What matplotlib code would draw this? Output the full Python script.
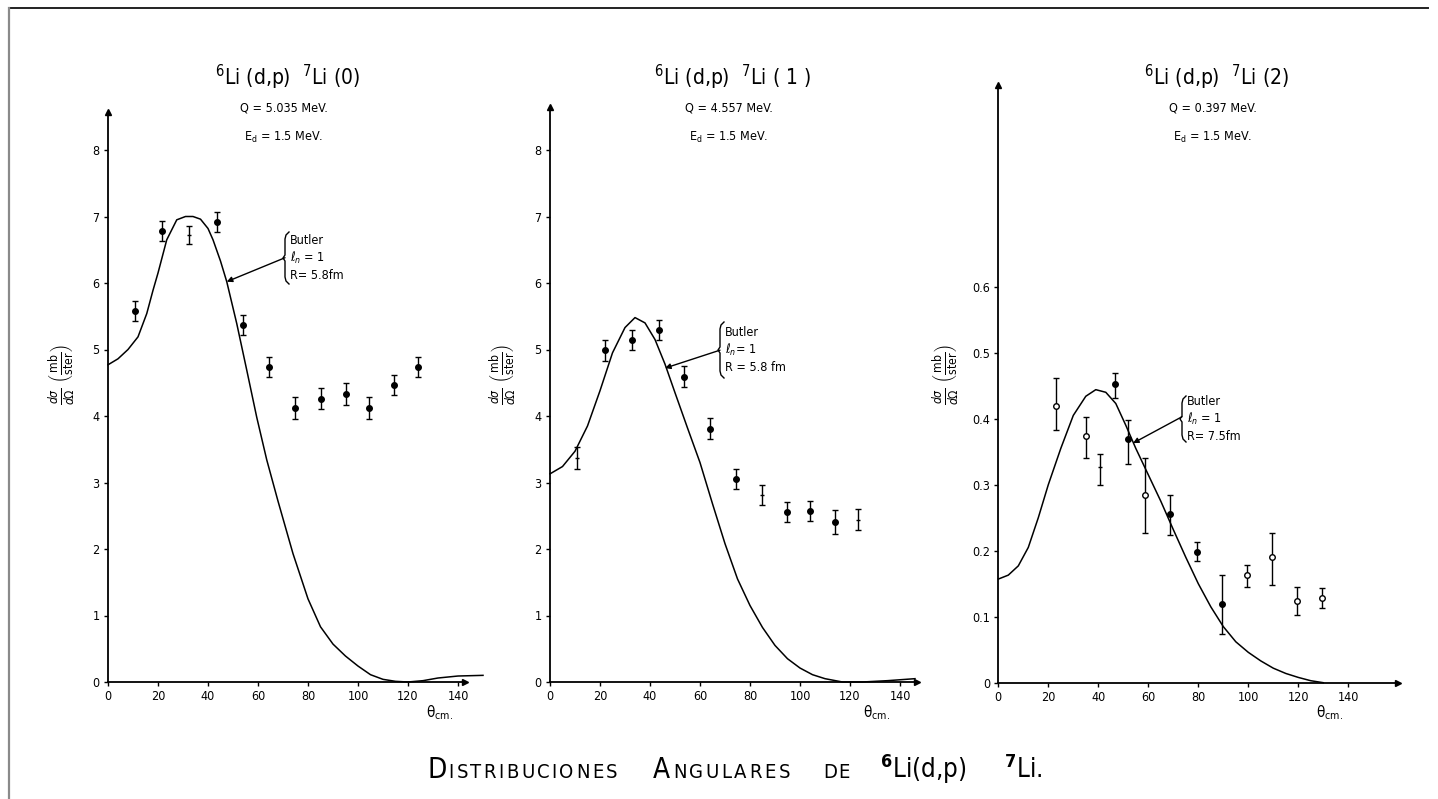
import matplotlib
matplotlib.use('Agg')
import matplotlib.pyplot as plt
from matplotlib import font_manager
from matplotlib.transforms import IdentityTransform
from matplotlib.lines import Line2D

W, H = 1438, 799
names = {f.name for f in font_manager.fontManager.ttflist}
FONT = 'Liberation Sans Narrow' if 'Liberation Sans Narrow' in names else 'DejaVu Sans'
plt.rcParams['font.family'] = [FONT, 'DejaVu Sans']
plt.rcParams['font.stretch'] = 'condensed'
plt.rcParams['mathtext.fontset'] = 'custom'
plt.rcParams['mathtext.rm'] = FONT
plt.rcParams['mathtext.it'] = FONT + ':italic'
plt.rcParams['mathtext.bf'] = FONT + ':bold'

# ---------------- data ----------------
x_ticks = [0, 20, 40, 60, 80, 100, 120, 140]
y_ticks_01 = [0, 1, 2, 3, 4, 5, 6, 7, 8]
y_ticks_2 = [0, 0.1, 0.2, 0.3, 0.4, 0.5, 0.6]
y_ticklabels_2 = ['0', '0.1', '0.2', '0.3', '0.4', '0.5', '0.6']

titles = [r'$^{6}$Li (d,p)  $^{7}$Li (0)', r'$^{6}$Li (d,p)  $^{7}$Li ( 1 )', r'$^{6}$Li (d,p)  $^{7}$Li (2)']
q_labels = ['Q = 5.035 MeV.', 'Q = 4.557 MeV.', 'Q = 0.397 MeV.']
ed_labels = [r'E$_{\rm d}$ = 1.5 MeV.'] * 3
butler_labels = ['Butler\n$\\ell_n$ = 1\nR= 5.8fm', 'Butler\n$\\ell_n$= 1\nR = 5.8 fm', 'Butler\n$\\ell_n$ = 1\nR= 7.5fm']

# panel 0: 7Li(0)
theta_0 = [10.8, 21.5, 32.4, 43.5, 53.9, 64.5, 74.8, 85.2, 95.1, 104.5, 114.4, 124.0]
sig_0 = [5.58, 6.78, 6.72, 6.92, 5.37, 4.74, 4.12, 4.26, 4.33, 4.12, 4.47, 4.73]
err_lo_0 = [0.15, 0.15, 0.14, 0.15, 0.15, 0.15, 0.16, 0.16, 0.16, 0.16, 0.15, 0.15]
err_hi_0 = [0.15, 0.15, 0.14, 0.15, 0.15, 0.15, 0.16, 0.16, 0.16, 0.16, 0.15, 0.15]
mark_0 = ['f', 'f', 'n', 'f', 'f', 'f', 'f', 'f', 'f', 'f', 'f', 'f']
curve_theta_0 = [0, 4, 8, 12, 15.5, 18, 20, 23.5, 27.5, 31, 34, 37, 40, 42, 45, 47.5, 51.5, 55.5,
                 59.5, 63.5, 68, 74, 80, 85, 90, 95, 100, 105, 110, 115, 120, 126, 132, 140, 150]
curve_sig_0 = [4.77, 4.86, 5.0, 5.19, 5.54, 5.89, 6.15, 6.65, 6.95, 7.0, 7.0, 6.96, 6.82, 6.65,
               6.33, 6.02, 5.39, 4.69, 3.98, 3.34, 2.72, 1.93, 1.25, 0.83, 0.57, 0.39, 0.24, 0.11,
               0.04, 0.01, 0.0, 0.02, 0.06, 0.09, 0.1]

# panel 1: 7Li(1)
theta_1 = [10.9, 22.0, 32.9, 43.6, 53.5, 64.0, 74.5, 84.8, 94.8, 104.1, 114.1, 123.3]
sig_1 = [3.37, 4.99, 5.14, 5.30, 4.59, 3.81, 3.05, 2.81, 2.55, 2.57, 2.40, 2.44]
err_lo_1 = [0.16, 0.16, 0.15, 0.15, 0.155, 0.155, 0.155, 0.15, 0.15, 0.155, 0.18, 0.16]
err_hi_1 = [0.16, 0.16, 0.15, 0.15, 0.155, 0.155, 0.155, 0.15, 0.15, 0.155, 0.18, 0.16]
mark_1 = ['n', 'f', 'f', 'f', 'f', 'f', 'f', 'n', 'f', 'f', 'f', 'n']
curve_theta_1 = [0, 5, 10, 15, 20, 25, 30, 34, 38, 42, 46, 50, 55, 60, 65, 70, 75, 80, 85, 90,
                 95, 100, 105, 110, 117, 125, 135, 146]
curve_sig_1 = [3.13, 3.24, 3.47, 3.85, 4.38, 4.95, 5.33, 5.48, 5.4, 5.15, 4.78, 4.35, 3.82, 3.3,
               2.68, 2.08, 1.55, 1.15, 0.82, 0.55, 0.35, 0.21, 0.11, 0.05, 0.0, 0.0, 0.02, 0.05]

# panel 2: 7Li(2)
theta_2 = [23.1, 35.1, 40.8, 46.8, 51.9, 58.8, 68.7, 79.5, 89.6, 99.5, 109.5, 119.5, 129.6]
sig_2 = [0.420, 0.374, 0.327, 0.452, 0.369, 0.284, 0.256, 0.198, 0.119, 0.163, 0.191, 0.124, 0.129]
err_lo_2 = [0.037, 0.033, 0.027, 0.020, 0.037, 0.057, 0.032, 0.013, 0.045, 0.018, 0.043, 0.022, 0.016]
err_hi_2 = [0.041, 0.028, 0.019, 0.018, 0.029, 0.057, 0.029, 0.015, 0.044, 0.015, 0.036, 0.021, 0.015]
mark_2 = ['o', 'o', 'n', 'f', 'f', 'o', 'f', 'f', 'f', 'o', 'o', 'o', 'o']
curve_theta_2 = [0, 4, 8, 12, 16, 20, 25, 30, 35, 39, 43, 47, 51, 55, 60, 65, 70, 75, 80, 85,
                 90, 95, 100, 105, 110, 115, 120, 125, 130]
curve_sig_2 = [0.157, 0.163, 0.177, 0.205, 0.25, 0.3, 0.355, 0.405, 0.434, 0.444, 0.44, 0.423,
               0.39, 0.355, 0.315, 0.275, 0.232, 0.19, 0.15, 0.115, 0.085, 0.062, 0.046, 0.033,
               0.022, 0.014, 0.008, 0.003, 0.0]

# annotation targets (arrow head on curve, brace tail)
arrow_head = [(47.5, 6.02), (46.0, 4.72), (53.9, 0.363)]
arrow_tail = [(70.8, 6.38), (68.0, 4.99), (73.5, 0.403)]

# ---------------- figure ----------------
fig = plt.figure(figsize=(W / 100, H / 100), dpi=100)
ID = IdentityTransform()

# frame lines of the scanned page
fig.add_artist(Line2D([9 / W, 1428 / W], [1 - 8 / H, 1 - 8 / H], color='#222222', lw=1.4))
fig.add_artist(Line2D([9 / W, 9 / W], [1 - 8 / H, 0], color='#8a8a8a', lw=1.6))

panels = [
    dict(left=108, y0=682, xmax=150, ymax=8.7, ypx=66.5, xarrow=142.8, yarrow=8.57,
         yt=y_ticks_01, ytl=[str(v) for v in y_ticks_01],
         th=theta_0, sg=sig_0, lo=err_lo_0, hi=err_hi_0, mk=mark_0,
         ct=curve_theta_0, cs=curve_sig_0, tx=287, lx=62, thx=440, bx=285, by=258, bh=26),
    dict(left=550, y0=682, xmax=150, ymax=8.7, ypx=66.5, xarrow=146.8, yarrow=8.65,
         yt=y_ticks_01, ytl=[str(v) for v in y_ticks_01],
         th=theta_1, sg=sig_1, lo=err_lo_1, hi=err_hi_1, mk=mark_1,
         ct=curve_theta_1, cs=curve_sig_1, tx=732, lx=503, thx=877, bx=720, by=350, bh=28),
    dict(left=998.3, y0=682.7, xmax=162, ymax=0.91, ypx=660, xarrow=160, yarrow=0.905,
         yt=y_ticks_2, ytl=y_ticklabels_2,
         th=theta_2, sg=sig_2, lo=err_lo_2, hi=err_hi_2, mk=mark_2,
         ct=curve_theta_2, cs=curve_sig_2, tx=1216, lx=946, thx=1330, bx=1182, by=419, bh=23),
]

for i, p in enumerate(panels):
    w = p['xmax'] * 2.5
    h = p['ymax'] * p['ypx']
    ax = fig.add_axes([p['left'] / W, (H - p['y0']) / H, w / W, h / H])
    ax.set_xlim(0, p['xmax'])
    ax.set_ylim(0, p['ymax'])
    ax.patch.set_alpha(0)
    for s in ('top', 'right'):
        ax.spines[s].set_visible(False)
    ax.spines['left'].set_bounds(0, p['yarrow'])
    ax.spines['bottom'].set_bounds(0, p['xarrow'])
    ax.spines['left'].set_linewidth(1.3)
    ax.spines['bottom'].set_linewidth(1.3)
    ax.plot([0], [p['yarrow']], marker='^', ms=5, color='black', clip_on=False)
    ax.plot([p['xarrow']], [0], marker='>', ms=5, color='black', clip_on=False)
    ax.set_xticks(x_ticks)
    ax.set_xticklabels([str(v) for v in x_ticks])
    ax.set_yticks(p['yt'])
    ax.set_yticklabels(p['ytl'])
    ax.tick_params(direction='out', length=3, width=1, labelsize=9, pad=3, colors='black')

    # Butler curve
    ax.plot(p['ct'], p['cs'], color='black', lw=1.1, clip_on=False,
            solid_joinstyle='round')

    # data points
    for t, s, lo, hi, m in zip(p['th'], p['sg'], p['lo'], p['hi'], p['mk']):
        if m == 'f':
            mk, mfc, ms = 'o', 'black', 4
        elif m == 'o':
            mk, mfc, ms = 'o', 'white', 4
        else:
            mk, mfc, ms = '_', 'black', 3
        ax.errorbar([t], [s], yerr=[[lo], [hi]], fmt=mk, mfc=mfc, mec='black', ms=ms,
                    ecolor='black', elinewidth=1.0, capsize=2.5, capthick=1.0, mew=1.0)

    # annotation
    hx, hy = arrow_head[i]
    tx_, ty_ = arrow_tail[i]
    ax.annotate('', xy=(hx, hy), xytext=(tx_, ty_),
                arrowprops=dict(arrowstyle='-|>', color='black', lw=1.0,
                                mutation_scale=8, shrinkA=0, shrinkB=0))
    bx, by, bh = p['bx'], p['by'], p['bh']
    xs = [bx + 4, bx + 1, bx, bx, bx - 2, bx, bx, bx + 1, bx + 4]
    ys = [by - bh, by - bh + 3, by - bh + 7, by - 3, by, by + 3, by + bh - 7, by + bh - 3, by + bh]
    fig.add_artist(Line2D([x / W for x in xs], [1 - y / H for y in ys], color='black', lw=1.0))
    fig.text(bx + 5, H - by, butler_labels[i], transform=ID, ha='left', va='center',
             fontsize=9, linespacing=1.3)

    # titles
    fig.text(p['tx'], H - 77, titles[i], transform=ID, ha='center', va='center', fontsize=15)
    fig.text(p['tx'] - 3, H - 108, q_labels[i], transform=ID, ha='center', va='center', fontsize=9)
    fig.text(p['tx'] - 3, H - 137, ed_labels[i], transform=ID, ha='center', va='center', fontsize=9)

    # axis labels
    fig.text(p['lx'], H - 374, r'$\frac{d\sigma}{d\Omega}\ \left(\frac{\rm mb}{\rm ster}\right)$',
             transform=ID, ha='center', va='center', rotation=90, fontsize=12.5)
    fig.text(p['thx'], H - 713, r'$\mathrm{\theta}_{\rm cm.}$', transform=ID, ha='center',
             va='center', fontsize=11)

# ---------------- bottom title in small caps ----------------
renderer = fig.canvas.get_renderer()
BIG, SMALL = 20, 14.5
words = [
    ([('D', BIG)] + [(c, SMALL) for c in 'ISTRIBUCIONES'], 427, 617),
    ([('A', BIG)] + [(c, SMALL) for c in 'NGULARES'], 653, 790),
    ([(c, SMALL) for c in 'DE'], 823, 850),
]
base_y = H - 778
for chars, x0, x1 in words:
    objs = [fig.text(0, base_y, c, transform=ID, ha='left', va='baseline', fontsize=s)
            for c, s in chars]
    widths = [o.get_window_extent(renderer).width for o in objs]
    gap = max((x1 - x0 - sum(widths)) / max(len(objs) - 1, 1), 1.5)
    x = x0
    for o, wd in zip(objs, widths):
        o.set_x(x)
        x += wd + gap
fig.text(880, base_y, r'$^{\mathbf{6}}$Li(d,p)', transform=ID, ha='left', va='baseline',
         fontsize=18.5)
fig.text(1004, base_y, r'$^{\mathbf{7}}$Li.', transform=ID, ha='left', va='baseline',
         fontsize=18.5)

fig.savefig('out.png', dpi=100)
